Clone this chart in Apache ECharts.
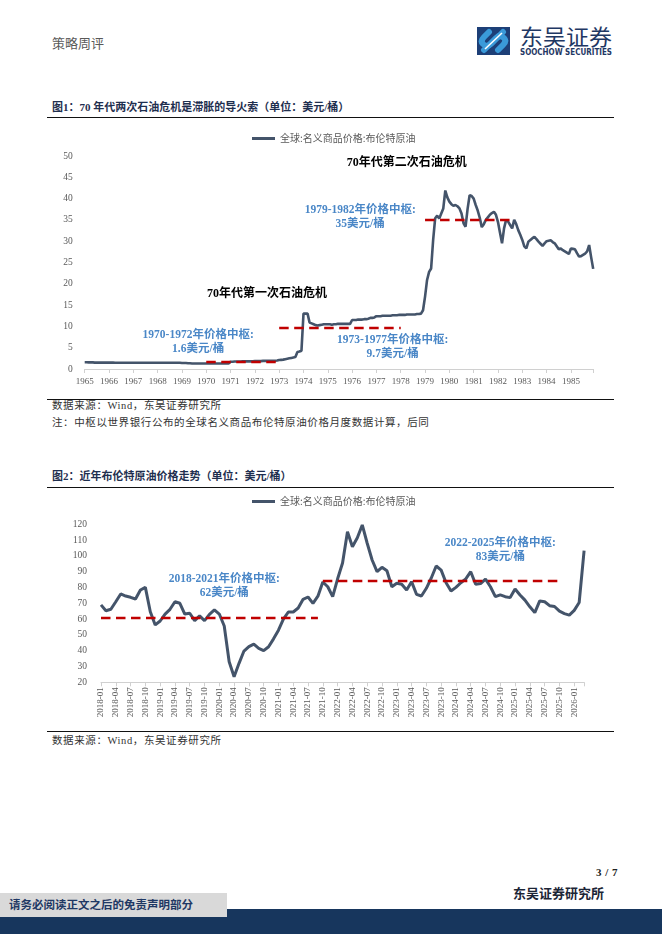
<!DOCTYPE html>
<html><head><meta charset="utf-8">
<script src="https://cdn.jsdelivr.net/npm/echarts@6/dist/echarts.min.js"></script>
<style>
html,body{margin:0;padding:0;background:#fff;}
#page{position:relative;width:662px;height:936px;overflow:hidden;font-family:"Liberation Serif","Noto Sans CJK SC",serif;}
.t{position:absolute;white-space:nowrap;line-height:1;}
.rule{position:absolute;left:47px;width:567px;height:1px;background:#111;}
#chart{position:absolute;left:0;top:0;width:662px;height:936px;}
</style></head><body>
<div id="page">
  <div class="t" style="left:52px;top:37px;font-size:13px;color:#595959;">策略周评</div>
  <svg style="position:absolute;left:476px;top:26px" width="140" height="32" viewBox="0 0 140 32">
    <rect x="1" y="1" width="33" height="28" fill="#1d3f77"/>
    <path d="M8 24 L20 12 Q24 8 28 12 Q31 15 27 19 L22 24" stroke="#3a9ad9" stroke-width="6" fill="none" stroke-linecap="round"/>
    <path d="M27 6 L15 18 Q11 22 7 18 Q4 15 8 11 L13 6" stroke="#3a9ad9" stroke-width="6" fill="none" stroke-linecap="round"/>
    <path d="M9 23 L26 7" stroke="#ffffff" stroke-width="1.6" fill="none"/>
    <text x="44" y="18.5" font-size="22" fill="#1f3864" font-family="Noto Sans CJK SC" textLength="92" lengthAdjust="spacingAndGlyphs">东吴证券</text>
    <text x="44" y="29" font-size="8" font-weight="bold" fill="#1f3864" font-family="DejaVu Sans" textLength="92" lengthAdjust="spacingAndGlyphs">SOOCHOW SECURITIES</text>
  </svg>
  <div class="t" style="left:52px;top:101.5px;font-size:11px;font-weight:bold;color:#1f2f4f;">图1：70 年代两次石油危机是滞胀的导火索（单位：美元/桶）</div>
  <div class="rule" style="top:117px"></div>
  <div class="rule" style="top:399px"></div>
  <div class="t" style="left:52px;top:401px;font-size:10.5px;letter-spacing:0.6px;color:#333;">数据来源：Wind，东吴证券研究所</div>
  <div class="t" style="left:52px;top:418px;font-size:10.5px;letter-spacing:0.6px;color:#333;">注：中枢以世界银行公布的全球名义商品布伦特原油价格月度数据计算，后同</div>
  <div class="t" style="left:52px;top:470.5px;font-size:11px;font-weight:bold;color:#1f2f4f;">图2：近年布伦特原油价格走势（单位：美元/桶）</div>
  <div class="rule" style="top:487px"></div>
  <div class="rule" style="top:731px"></div>
  <div class="t" style="left:52px;top:736px;font-size:10.5px;letter-spacing:0.6px;color:#333;">数据来源：Wind，东吴证券研究所</div>
  <div class="t" style="left:596px;top:866.5px;font-size:11px;font-weight:bold;color:#222;word-spacing:1px;">3 / 7</div>
  <div class="t" style="left:513px;top:886.5px;font-size:13px;font-weight:bold;color:#1c2536;">东吴证券研究所</div>
  <div style="position:absolute;left:0;top:909px;width:662px;height:25px;background:#17365d"></div>
  <div style="position:absolute;left:0;top:893px;width:227px;height:24px;background:#d9d9d9"></div>
  <div class="t" style="left:9px;top:900px;font-size:11.5px;font-weight:bold;color:#1f3864;">请务必阅读正文之后的免责声明部分</div>
  <div id="chart"></div>
</div>
<script>
// ---------- data ----------
const seriesName = '全球:名义商品价格:布伦特原油';

// Figure 1: monthly Brent, 1965-01 .. 1985-12 (USD/bbl)
const brent1965_1985 = [
  1.6,1.6,1.55,1.55,1.55,1.5,1.5,1.5,1.5,1.5,1.5,1.5,      // 1965
  1.5,1.5,1.5,1.45,1.45,1.45,1.45,1.45,1.45,1.45,1.45,1.45, // 1966
  1.45,1.45,1.45,1.45,1.45,1.45,1.45,1.45,1.45,1.45,1.45,1.45, // 1967
  1.45,1.45,1.45,1.45,1.45,1.45,1.45,1.45,1.45,1.45,1.45,1.45, // 1968
  1.4,1.4,1.4,1.35,1.35,1.3,1.3,1.3,1.3,1.3,1.3,1.3,        // 1969
  1.3,1.3,1.3,1.3,1.3,1.3,1.3,1.3,1.3,1.3,1.3,1.3,          // 1970
  1.7,1.7,1.75,1.75,1.75,1.75,1.8,1.8,1.8,1.8,1.8,1.8,      // 1971
  1.85,1.85,1.85,1.85,1.9,1.9,1.9,1.9,1.95,1.95,1.95,2.0,   // 1972
  2.1,2.15,2.2,2.3,2.4,2.5,2.6,2.7,2.8,4.0,4.1,4.3,         // 1973
  13.0,13.0,13.0,10.9,10.7,10.5,10.3,10.2,10.3,10.4,10.5,10.5, // 1974
  10.5,10.5,10.4,10.5,10.5,10.6,10.6,10.6,10.6,10.6,10.6,10.6, // 1975
  11.5,11.5,11.5,11.6,11.6,11.6,11.7,11.7,11.8,12.0,12.0,12.1, // 1976
  12.4,12.4,12.4,12.5,12.5,12.5,12.5,12.5,12.6,12.6,12.6,12.7, // 1977
  12.7,12.7,12.7,12.8,12.8,12.8,12.8,12.8,12.9,12.9,13.0,13.8, // 1978
  17.0,20.9,22.8,23.6,30.3,35.4,36.0,35.3,36.5,37.7,41.9,40.3, // 1979
  39.3,38.7,38.3,38.5,38.2,37.7,36.5,34.2,33.4,37.6,40.8,40.6, // 1980
  40.0,38.5,37.2,35.5,33.3,34.0,35.0,35.6,36.2,36.6,36.9,36.2, // 1981
  34.5,32.0,29.5,33.0,35.0,34.6,33.8,33.0,35.0,34.0,32.6,31.5, // 1982
  30.3,28.8,28.3,29.9,30.3,30.7,31.0,30.5,29.9,29.4,28.9,29.5, // 1983
  30.0,30.1,30.2,29.8,29.5,28.8,28.1,28.3,27.9,27.6,27.3,27.0, // 1984
  28.3,28.2,28.1,27.2,26.4,26.5,26.8,27.1,27.6,29.1,26.2,23.5  // 1985
];

// Figure 2: monthly Brent, 2018-01 .. 2026-03 (USD/bbl)
const brent2018_2026 = [
  69.0,65.3,66.2,71.0,75.9,74.6,73.8,72.7,78.4,80.1,64.7,56.3, // 2018
  58.8,63.2,66.2,71.0,70.0,63.2,63.7,59.0,62.0,59.0,63.0,65.8, // 2019
  63.2,55.6,33.0,23.5,32.0,39.8,42.6,44.2,41.5,40.0,42.5,47.5, // 2020
  53.0,60.0,64.5,64.5,67.0,72.5,74.0,70.0,74.5,83.5,80.5,74.2, // 2021
  85.5,95.5,115.3,105.8,111.5,119.6,108.0,97.4,90.0,92.8,90.6,80.5, // 2022
  82.7,82.1,78.4,83.7,75.7,74.6,79.5,86.0,93.6,91.0,83.0,77.8, // 2023
  80.1,83.0,85.5,90.0,82.1,82.5,85.3,80.5,74.2,75.3,74.2,73.6, // 2024
  79.0,75.3,72.0,67.8,64.1,71.5,71.0,68.5,68.0,65.0,63.5,62.5, // 2025
  65.5,70.5,103.3                                              // 2026
];

// price pivots (dashed lines): [from, to, level]
const pivots1 = [
  ['1970-01','1972-12',1.6],
  ['1973-01','1978-01',9.7],
  ['1979-01','1982-08',35]
];
const pivots2 = [
  ['2018-01','2021-09',61],
  ['2021-10','2025-10',84]
];

// annotations: [anchor month, anchor value, text, kind]
const notes1 = [
  ['1978-04',48.4,'70年代第二次石油危机','black'],
  ['1976-05',35.7,'1979-1982年价格中枢:\n35美元/桶','blue'],
  ['1972-07',17.6,'70年代第一次石油危机','black'],
  ['1969-09',6.3,'1970-1972年价格中枢:\n1.6美元/桶','blue'],
  ['1977-09',5.2,'1973-1977年价格中枢:\n9.7美元/桶','blue']
];
const notes2 = [
  ['2020-02',80.9,'2018-2021年价格中枢:\n62美元/桶','blue'],
  ['2024-10',103.5,'2022-2025年价格中枢:\n83美元/桶','blue']
];

// axis ranges
const yAxis1 = {min:0, max:50, interval:5};
const yAxis2 = {min:20, max:120, interval:10};

function monthRange(y0,m0,y1,m1){
  const out=[];
  let y=y0,m=m0;
  while(y<y1||(y===y1&&m<=m1)){out.push(y+'-'+(m<10?'0':'')+m);m++;if(m>12){m=1;y++;}}
  return out;
}
const months1 = monthRange(1965,1,1985,12);
const months2 = monthRange(2018,1,2026,3);

// ---------- chart ----------
const LINE = '#44546a', RED = '#c00000', BLUE = '#4a87c7', GREY = '#595959';
const FONT = "'Liberation Serif','Noto Sans CJK SC',serif";

function pivotLines(p){
  return p.map(d=>[{coord:[d[0],d[2]]},{coord:[d[1],d[2]]}]);
}
function notePoints(n){
  return n.map(d=>({coord:[d[0],d[1]], name:d[2],
    label:{show:true, position:'inside', formatter:d[2], color:d[3]==='blue'?BLUE:'#000',
      fontSize:d[3]==='blue'?11.5:12, fontWeight:'bold', fontFamily:FONT, lineHeight:14, align:'center'}}));
}

const chart = echarts.init(document.getElementById('chart'), null, {renderer:'canvas'});
const option = {
  animation:false,
  grid:[
    {left:84.7, top:156, width:508.5, height:213, outerBoundsMode:'none', containLabel:false},
    {left:101, top:524.3, width:483.1, height:158, outerBoundsMode:'none', containLabel:false}
  ],
  legend:[
    {left:252, top:133.5, padding:0, icon:'rect', itemWidth:23, itemHeight:3, data:[seriesName],
     textStyle:{color:GREY, fontSize:10, fontFamily:"'Noto Sans CJK SC'"}, selectedMode:false},
    {left:252, top:496.5, padding:0, icon:'rect', itemWidth:23, itemHeight:3, data:[seriesName],
     textStyle:{color:GREY, fontSize:10, fontFamily:"'Noto Sans CJK SC'"}, selectedMode:false}
  ],
  xAxis:[
    {type:'category', gridIndex:0, data:months1, boundaryGap:false,
     axisLine:{lineStyle:{color:'#d0d0d0'}},
     axisTick:{length:4, lineStyle:{color:'#d0d0d0'}, interval:(i)=>i%12===0||i===months1.length-1},
     axisLabel:{interval:(i)=>i%12===0, formatter:(v)=>v.slice(0,4), color:GREY, fontSize:9, fontFamily:FONT, margin:8},
     splitLine:{show:false}},
    {type:'category', gridIndex:1, data:months2, boundaryGap:false,
     axisLine:{lineStyle:{color:'#d0d0d0'}},
     axisTick:{length:4, lineStyle:{color:'#d0d0d0'}, interval:(i)=>i%3===0||i===months2.length-1},
     axisLabel:{interval:(i)=>i%3===0, rotate:90, color:GREY, fontSize:9, fontFamily:FONT, margin:5},
     splitLine:{show:false}}
  ],
  yAxis:[
    {type:'value', gridIndex:0, min:yAxis1.min, max:yAxis1.max, interval:yAxis1.interval,
     axisLine:{show:false}, axisTick:{show:false}, splitLine:{show:false},
     axisLabel:{color:GREY, fontSize:9.5, fontFamily:FONT, margin:12}},
    {type:'value', gridIndex:1, min:yAxis2.min, max:yAxis2.max, interval:yAxis2.interval,
     axisLine:{show:false}, axisTick:{show:false}, splitLine:{show:false},
     axisLabel:{color:GREY, fontSize:9.5, fontFamily:FONT, margin:14}}
  ],
  series:[
    {type:'line', name:seriesName, xAxisIndex:0, yAxisIndex:0, data:brent1965_1985,
     symbol:'none', lineStyle:{color:LINE, width:2.6}, itemStyle:{color:LINE},
     markLine:{silent:true, symbol:'none', label:{show:false},
       lineStyle:{color:RED, width:2.4, type:[9.5,5.5]}, emphasis:{disabled:true},
       data:pivotLines(pivots1)},
     markPoint:{silent:true, symbol:'rect', symbolSize:1, itemStyle:{color:'rgba(0,0,0,0)'},
       data:notePoints(notes1)}},
    {type:'line', name:seriesName, xAxisIndex:1, yAxisIndex:1, data:brent2018_2026,
     symbol:'none', lineStyle:{color:LINE, width:3}, itemStyle:{color:LINE},
     markLine:{silent:true, symbol:'none', label:{show:false},
       lineStyle:{color:RED, width:2.4, type:[9.5,5.5]}, emphasis:{disabled:true},
       data:pivotLines(pivots2)},
     markPoint:{silent:true, symbol:'rect', symbolSize:1, itemStyle:{color:'rgba(0,0,0,0)'},
       data:notePoints(notes2)}}
  ]
};
chart.setOption(option);
</script>
</body></html>
